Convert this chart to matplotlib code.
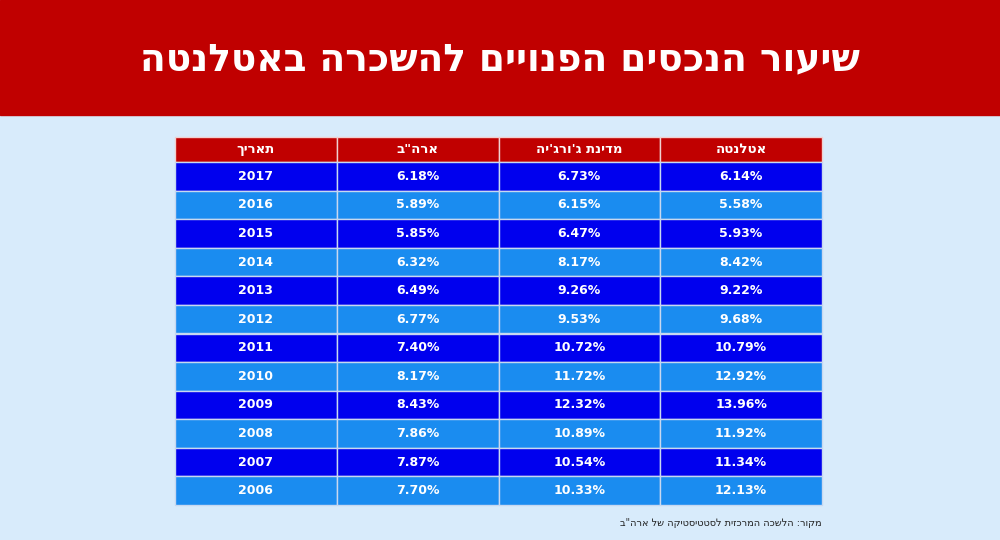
import matplotlib

matplotlib.use("Agg")

import matplotlib.pyplot as plt  # noqa: E402
from matplotlib.patches import Rectangle  # noqa: E402

title = "שיעור הנכסים הפנויים להשכרה באטלנטה"
source = "מקור: הלשכה המרכזית לסטטיסטיקה של ארה\"ב"
# columns listed left to right as drawn
headers = ["תאריך", "ארה\"ב", "מדינת ג'ורג'יה", "אטלנטה"]
years = [2017, 2016, 2015, 2014, 2013, 2012, 2011, 2010, 2009, 2008, 2007, 2006]
usa = [6.18, 5.89, 5.85, 6.32, 6.49, 6.77, 7.40, 8.17, 8.43, 7.86, 7.87, 7.70]
georgia = [6.73, 6.15, 6.47, 8.17, 9.26, 9.53, 10.72, 11.72, 12.32, 10.89, 10.54, 10.33]
atlanta = [6.14, 5.58, 5.93, 8.42, 9.22, 9.68, 10.79, 12.92, 13.96, 11.92, 11.34, 12.13]


def heb(s):
    # matplotlib has no bidi support: reverse visual order
    return s[::-1]


fig = plt.figure(figsize=(10, 5.4), dpi=100)
fig.patch.set_facecolor("#d8ebfb")
ax = fig.add_axes([0, 0, 1, 1])
ax.set_xlim(0, 1000)
ax.set_ylim(540, 0)
ax.axis("off")

ax.add_patch(Rectangle((0, 0), 1000, 115, color="#c00000"))
ax.text(500, 60, heb(title), color="white", fontsize=27, fontweight="bold",
        ha="center", va="center", family="DejaVu Sans")

x0, x1 = 175, 822
colw = (x1 - x0) / 4
top, hh = 137, 25
rh = (505 - top - hh) / len(years)

for c, h in enumerate(headers):
    ax.add_patch(Rectangle((x0 + c * colw, top), colw, hh, facecolor="#c00000",
                           edgecolor="#f0d0d0", lw=1))
    ax.text(x0 + (c + 0.5) * colw, top + hh / 2, heb(h), color="white",
            fontsize=9.5, fontweight="bold", ha="center", va="center")

for r, yr in enumerate(years):
    y = top + hh + r * rh
    fc = "#0000ee" if r % 2 == 0 else "#1a8cf0"
    vals = [str(yr), f"{usa[r]:.2f}%", f"{georgia[r]:.2f}%", f"{atlanta[r]:.2f}%"]
    for c, v in enumerate(vals):
        ax.add_patch(Rectangle((x0 + c * colw, y), colw, rh, facecolor=fc,
                               edgecolor="#c8d8f0", lw=1))
        ax.text(x0 + (c + 0.5) * colw, y + rh / 2, v, color="white",
                fontsize=9, fontweight="bold", ha="center", va="center")

ax.text(822, 523, heb(source), color="#222222", fontsize=7, ha="right", va="center")

fig.savefig("out.png", dpi=100, facecolor=fig.get_facecolor())
